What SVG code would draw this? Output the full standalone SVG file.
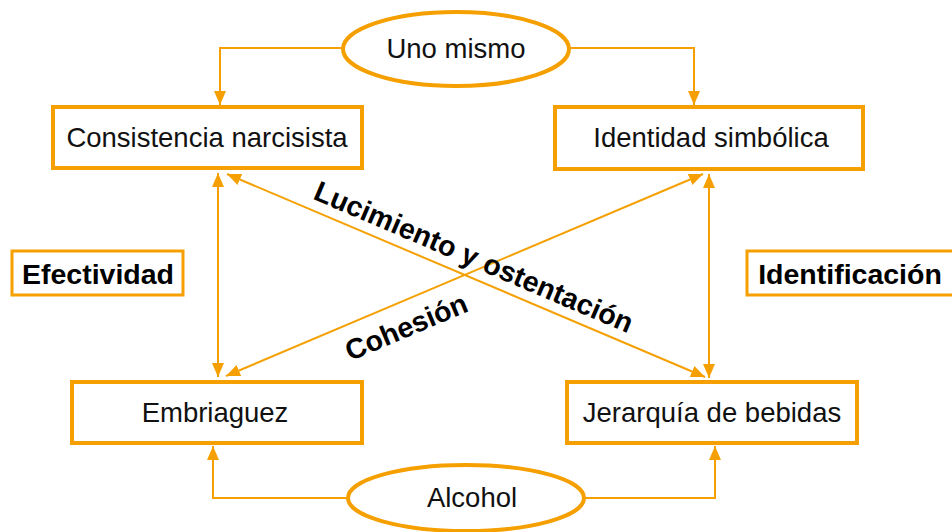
<svg xmlns="http://www.w3.org/2000/svg" width="952" height="532" viewBox="0 0 952 532">
<defs>
<style>
.box{fill:#fff;stroke:#F5A000;stroke-width:4}
.lbl{fill:#fff;stroke:#F5A000;stroke-width:3}
.ell{fill:#fff;stroke:#F5A000;stroke-width:4}
.c{fill:none;stroke:#F5A000;stroke-width:2}
.t{font-family:"Liberation Sans",Arial,sans-serif;font-size:27.5px;fill:#111;text-anchor:middle}
.b{font-family:"Liberation Sans",Arial,sans-serif;font-size:28.5px;font-weight:bold;fill:#000;text-anchor:middle}
</style>
<marker id="ah" viewBox="0 0 14 12" refX="14" refY="6" markerWidth="14" markerHeight="12" markerUnits="userSpaceOnUse" orient="auto-start-reverse">
<path d="M0,0 L14,6 L0,12 Z" fill="#F5A000"/>
</marker>
</defs>
<rect width="952" height="532" fill="#fff"/>
<g id="connectors">
<path class="c" d="M345,48 H220 V105" marker-end="url(#ah)"/>
<path class="c" d="M568,48 H694 V105" marker-end="url(#ah)"/>
<path class="c" d="M350,498 H213 V446" marker-end="url(#ah)"/>
<path class="c" d="M583,498 H715 V446" marker-end="url(#ah)"/>
<path class="c" d="M218,173 V377" marker-start="url(#ah)" marker-end="url(#ah)"/>
<path class="c" d="M709,174 V378" marker-start="url(#ah)" marker-end="url(#ah)"/>
<path class="c" d="M227,174 L705,377" marker-start="url(#ah)" marker-end="url(#ah)"/>
<path class="c" d="M703,174 L226,376" marker-start="url(#ah)" marker-end="url(#ah)"/>
</g>
<g id="uno-mismo">
<ellipse class="ell" cx="456" cy="49" rx="113" ry="37"/>
<text class="t" x="456" y="58">Uno mismo</text>
</g>
<g id="consistencia-narcisista">
<rect class="box" x="53" y="107" width="309" height="61"/>
<text class="t" x="207" y="147">Consistencia narcisista</text>
</g>
<g id="identidad-simbolica">
<rect class="box" x="555" y="107" width="308" height="62"/>
<text class="t" x="711" y="147">Identidad simbólica</text>
</g>
<g id="efectividad">
<rect class="lbl" x="12" y="251" width="171" height="44"/>
<text class="b" x="98" y="284">Efectividad</text>
</g>
<g id="identificacion">
<rect class="lbl" x="747" y="251" width="215" height="44"/>
<text class="b" x="850" y="284">Identificación</text>
</g>
<g id="embriaguez">
<rect class="box" x="72" y="382" width="290" height="61"/>
<text class="t" x="215" y="422">Embriaguez</text>
</g>
<g id="jerarquia-de-bebidas">
<rect class="box" x="567" y="382" width="290" height="61"/>
<text class="t" x="712" y="422">Jerarquía de bebidas</text>
</g>
<g id="alcohol">
<ellipse class="ell" cx="466" cy="498" rx="118" ry="33"/>
<text class="t" x="472" y="507">Alcohol</text>
</g>
<g id="labels">
<text class="b" transform="translate(470,266) rotate(23.1)">Lucimiento y ostentación</text>
<text class="b" transform="translate(410,336) rotate(-22.9)">Cohesión</text>
</g>
</svg>
